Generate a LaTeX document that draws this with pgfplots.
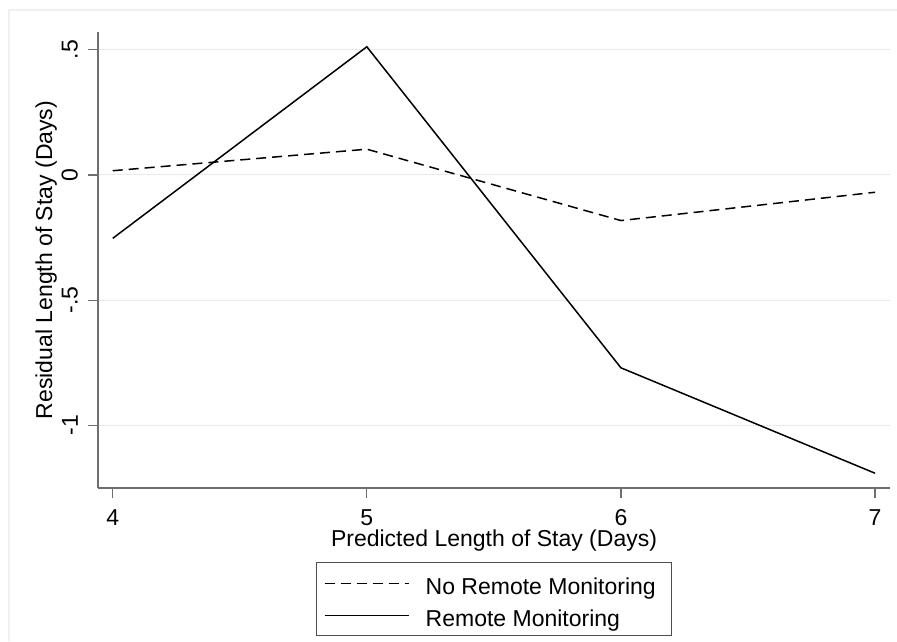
\documentclass[border=0pt]{standalone}
\usepackage{pgfplots}
\pgfplotsset{compat=1.18}
\usepackage{fontspec}
\setmainfont{Liberation Sans}
\definecolor{axgray}{HTML}{6E6E6E}
\definecolor{gridgray}{HTML}{EAEAEA}
\definecolor{framegray}{HTML}{F0F0F0}
\begin{document}
\begin{tikzpicture}[x=1pt,y=1pt]
\path[use as bounding box] (0,0) rectangle (897,641);
\draw[framegray, line width=1.5pt] (9,0) -- (9,631) -- (897,631);
\begin{axis}[
  at={(98pt,153pt)}, anchor=south west,
  scale only axis, width=792pt, height=456pt,
  axis lines=left,
  axis line style={axgray, line width=1.4pt, -},
  xmin=3.942, xmax=7.059,
  ymin=-1.250, ymax=0.571,
  xtick={4,5,6,7}, xticklabels={4,5,6,7},
  ytick={-1,-0.5,0,0.5}, yticklabels={-1,-.5,0,.5},
  tick align=outside, major tick length=10pt,
  tick style={axgray, line width=1.2pt},
  ymajorgrids, grid style={gridgray, line width=1pt},
  font=\fontsize{23}{26}\selectfont,
  xticklabel style={anchor=base, yshift=-27pt, inner sep=0pt},
  yticklabel style={rotate=90, anchor=south, inner sep=0pt, yshift=10pt},
  xlabel={Predicted Length of Stay (Days)},
  ylabel={Residual Length of Stay (Days)},
  xlabel style={at={(axis description cs:0.5,0)}, anchor=base, yshift=-58pt, inner sep=0pt},
  ylabel style={at={(axis description cs:0,0.5)}, anchor=south, inner sep=0pt, yshift=41pt},
  legend style={at={(axis description cs:0.5,-0.1626)}, anchor=north,
    draw=axgray!70!black, line width=1.2pt, inner xsep=8pt, inner ysep=9.5pt,
    row sep=10pt, font=\fontsize{23}{26}\selectfont,
    nodes={inner sep=0pt, text height=22pt, text depth=0pt}},
  legend cell align=left,
  legend image code/.code={\draw[#1] (0pt,0pt) -- (84pt,0pt); \path (100pt,0pt);},
]
\addplot[black, line width=1.5pt, dash pattern=on 10pt off 6pt] coordinates {(4,0.017) (5,0.103) (6,-0.182) (7,-0.069)};
\addlegendentry{No Remote Monitoring\kern8pt\null}
\addplot[black, line width=1.5pt] coordinates {(4,-0.253) (5,0.512) (6,-0.770) (7,-1.191)};
\addlegendentry{Remote Monitoring}
\end{axis}
\end{tikzpicture}
\end{document}
